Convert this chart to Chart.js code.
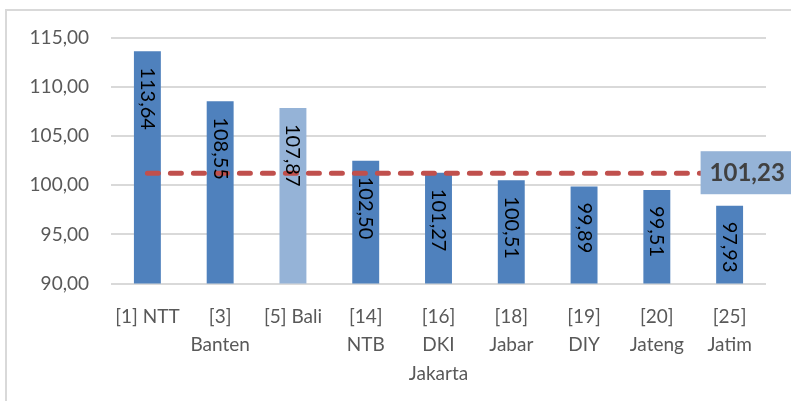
<!DOCTYPE html>
<html lang="id">
<head>
    <meta charset="UTF-8">
    <title>Indeks</title>
    <style>
        html, body {
            margin: 0;
            padding: 0;
            background: #ffffff;
            overflow: hidden;
        }
        #frame {
            position: absolute;
            left: 5px;
            top: 9px;
            width: 900px;
            height: 500px;
            border: 2px solid #d9d9d9;
        }
        #wrap {
            position: absolute;
            left: 0;
            top: 0;
            width: 791px;
            height: 401px;
        }
    </style>
</head>
<body>
    <div id="frame"></div>
    <div id="wrap"><canvas id="chart"></canvas></div>
    <script src="https://cdn.jsdelivr.net/npm/chart.js"></script>
    <script>
        // data
        const categories = [
            ['[1] NTT'], ['[3]', 'Banten'], ['[5] Bali'], ['[14]', 'NTB'],
            ['[16]', 'DKI', 'Jakarta'], ['[18]', 'Jabar'], ['[19]', 'DIY'],
            ['[20]', 'Jateng'], ['[25]', 'Jatim']
        ];
        const values = [113.64, 108.55, 107.87, 102.50, 101.27, 100.51, 99.89, 99.51, 97.93];
        const average = 101.23;
        const averageLine = categories.map(() => average);
        const barColors = ['#4f81bd', '#4f81bd', '#95b3d7', '#4f81bd', '#4f81bd', '#4f81bd', '#4f81bd', '#4f81bd', '#4f81bd'];

        const fmt = v => v.toFixed(2).replace('.', ',');
        const FONT = 'Lato, "Open Sans", sans-serif';

        // rotated value labels inside bars + box label at end of average line
        const labelsPlugin = {
            id: 'labels',
            afterDatasetsDraw(chart) {
                const ctx = chart.ctx;
                const bars = chart.getDatasetMeta(0).data;
                ctx.save();
                ctx.fillStyle = '#000000';
                ctx.font = '20px ' + FONT;
                ctx.textAlign = 'left';
                ctx.textBaseline = 'middle';
                bars.forEach((bar, i) => {
                    ctx.save();
                    ctx.translate(bar.x, bar.y + 16);
                    ctx.rotate(Math.PI / 2);
                    ctx.fillText(fmt(values[i]), 0, 0);
                    ctx.restore();
                });

                const pts = chart.getDatasetMeta(1).data;
                const last = pts[pts.length - 1];
                const bx = last.x - 29, by = last.y - 22;
                ctx.fillStyle = '#95b3d7';
                ctx.fillRect(bx, by, 95, 43);
                ctx.fillStyle = '#404040';
                ctx.font = 'bold 24px ' + FONT;
                ctx.textAlign = 'left';
                ctx.fillText(fmt(average), bx + 9, by + 22);
                ctx.restore();
            }
        };

        new Chart(document.getElementById('chart'), {
            data: {
                labels: categories,
                datasets: [{
                    type: 'bar',
                    data: values,
                    backgroundColor: barColors,
                    barPercentage: 1,
                    categoryPercentage: 0.37,
                    order: 1
                }, {
                    type: 'line',
                    data: averageLine,
                    borderColor: '#c0504d',
                    borderWidth: 5,
                    borderDash: [11, 12],
                    borderCapStyle: 'round',
                    pointRadius: 0,
                    fill: false,
                    order: 0
                }]
            },
            options: {
                responsive: true,
                maintainAspectRatio: false,
                animation: false,
                layout: { padding: { top: 38, right: 25, left: 0, bottom: 2 } },
                plugins: {
                    legend: { display: false },
                    tooltip: { enabled: false }
                },
                scales: {
                    x: {
                        grid: { display: false },
                        border: { display: false },
                        ticks: {
                            color: '#595959',
                            font: { family: FONT, size: 19, lineHeight: 1.5 },
                            maxRotation: 0,
                            autoSkip: false,
                            padding: 11
                        }
                    },
                    y: {
                        min: 90,
                        max: 115,
                        border: { display: false },
                        grid: { color: '#d9d9d9', lineWidth: 2, drawTicks: false },
                        afterFit(scale) { scale.width = 111; },
                        ticks: {
                            stepSize: 5,
                            color: '#595959',
                            padding: 22,
                            font: { family: FONT, size: 19 },
                            callback: v => fmt(v)
                        }
                    }
                }
            },
            plugins: [labelsPlugin]
        });
    </script>
</body>
</html>
